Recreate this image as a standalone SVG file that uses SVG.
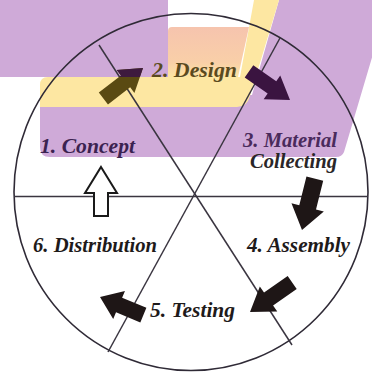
<svg xmlns="http://www.w3.org/2000/svg" xmlns:xlink="http://www.w3.org/1999/xlink" width="372" height="372" viewBox="0 0 372 372">
  <style>
    .lbl { font-family: "Liberation Serif", "Times New Roman", serif; font-weight: bold; font-style: italic; font-size: 20px; }
    .rim { fill: none; stroke: #2f2a36; stroke-width: 1.6; }
    .spoke { stroke: #3a3540; stroke-width: 1.5; }
  </style>
  <defs>
    <!-- block arrow, tip at origin, pointing along +x -->
    <path id="blk" d="M0,0 L-22,-14.5 L-22,-7.5 L-50,-7.5 L-50,7.5 L-22,7.5 L-22,14.5 Z"/>
    <linearGradient id="peach" x1="0" y1="0" x2="0" y2="1">
      <stop offset="0" stop-color="#f6c4ae"/>
      <stop offset="0.7" stop-color="#f9cfa8"/>
      <stop offset="1" stop-color="#fde5a2"/>
    </linearGradient>
    <clipPath id="upperBand" clipPathUnits="userSpaceOnUse">
      <rect x="0" y="0" width="372" height="77"/>
    </clipPath>
  </defs>

  <rect width="372" height="372" fill="#ffffff"/>

  <!-- coloured backdrop bands -->
  <g id="backdrop">
    <rect x="0" y="0" width="168" height="77" fill="#cfaad8"/>
    <path d="M279,0 L389,0 L344,152 Q342,157 336,157 H50 Q40,157 40,147 V95 H252 Z" fill="#cfaad8"/>
    <path d="M48,77 H240 L254,0 H279 L250,96 Q247,107 237,107 H40 V85 Q40,77 48,77 Z" fill="#fde7a2"/>
    <path d="M172,27 H249 L238,77 H168 V31 Q168,27 172,27 Z" fill="url(#peach)"/>
  </g>

  <!-- wheel outline and dividing lines -->
  <g id="wheel">
    <ellipse class="rim" cx="191" cy="192" rx="177" ry="178.5"/>
    <line class="spoke" x1="14" y1="196.5" x2="368" y2="196.5"/>
    <line class="spoke" x1="99" y1="45" x2="292" y2="345"/>
    <line class="spoke" x1="280" y1="38" x2="108" y2="352"/>
  </g>

  <!-- flow arrows between stages -->
  <g id="connectors">
    <g id="concept-to-design">
      <use xlink:href="#blk" href="#blk" fill="#5a4a12" transform="translate(143,68) rotate(-37.6)"/>
      <g clip-path="url(#upperBand)">
        <use xlink:href="#blk" href="#blk" fill="#3e1a3e" transform="translate(143,68) rotate(-37.6)"/>
      </g>
    </g>
    <use id="design-to-material" xlink:href="#blk" href="#blk" fill="#3a1440" transform="translate(290,100) rotate(34.9)"/>
    <use id="material-to-assembly" xlink:href="#blk" href="#blk" fill="#1e1616" transform="translate(302,230) rotate(104) scale(1.06,1.15)"/>
    <use id="assembly-to-testing" xlink:href="#blk" href="#blk" fill="#1e1616" transform="translate(250,312) rotate(145) scale(1.03,1.05)"/>
    <use id="testing-to-distribution" xlink:href="#blk" href="#blk" fill="#1e1616" transform="translate(100,297) rotate(202.7) scale(0.94,1.05)"/>
    <path id="distribution-to-concept" d="M101,167 L117,193 L108,193 L108,216 L94,216 L94,193 L85,193 Z" fill="#ffffff" stroke="#1a1a1a" stroke-width="2" stroke-linejoin="miter"/>
  </g>

  <!-- stage labels -->
  <g id="stage-concept">
    <text class="lbl" x="40" y="153" textLength="95" lengthAdjust="spacingAndGlyphs" fill="#3b2250">1. Concept</text>
  </g>
  <g id="stage-design">
    <text class="lbl" x="152" y="77" textLength="85" lengthAdjust="spacingAndGlyphs" fill="#5a4a1e">2. Design</text>
  </g>
  <g id="stage-material">
    <text class="lbl" x="243" y="147" textLength="94" lengthAdjust="spacingAndGlyphs" fill="#4a2a5c">3. Material</text>
    <text class="lbl" x="250" y="168" textLength="87" lengthAdjust="spacingAndGlyphs" fill="#2a2628">Collecting</text>
  </g>
  <g id="stage-assembly">
    <text class="lbl" x="247" y="252" textLength="103" lengthAdjust="spacingAndGlyphs" fill="#1e1a1a">4. Assembly</text>
  </g>
  <g id="stage-testing">
    <text class="lbl" x="150" y="317" textLength="85" lengthAdjust="spacingAndGlyphs" fill="#1e1a1a">5. Testing</text>
  </g>
  <g id="stage-distribution">
    <text class="lbl" x="33" y="252" textLength="124" lengthAdjust="spacingAndGlyphs" fill="#1e1a1a">6. Distribution</text>
  </g>
</svg>
